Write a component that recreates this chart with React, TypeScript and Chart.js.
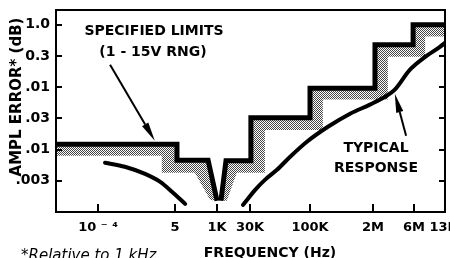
import { useEffect, useRef } from "react";
import { Chart, registerables } from "chart.js";

Chart.register(...registerables);

// Axis ticks (positions in an abstract 0..100 frequency coordinate; y in decade-step index)
const xTickValues = [10.8, 30.6, 41.4, 49.9, 65.3, 81.5, 92.0, 100];
const xTickLabels = ["10 ⁻ ⁴", "5", "1K", "30K", "100K", "2M", "6M", "13M"];
const yTickValues = [0, 1, 2, 3, 4, 5];
const yTickLabels = [".003", ".01", ".03", ".01", "0.3", "1.0"];

// Specified limits (staircase)
const limitLeftX = [0, 31.1, 31.1, 39.1, 41.4];
const limitLeftY = [1.17, 1.17, 0.66, 0.66, -0.64];
const limitRightX = [42.4, 43.7, 50.1, 50.1, 65.3, 65.3, 82.0, 82.0, 91.8, 91.8, 100];
const limitRightY = [-0.64, 0.64, 0.64, 2.02, 2.02, 2.96, 2.96, 4.36, 4.36, 5.0, 5.0];

// Outer edge of the shaded tolerance band
const bandLeftX = [0, 27.2, 27.2, 35.7, 39.6];
const bandLeftY = [0.8, 0.8, 0.26, 0.26, -0.61];
const bandRightX = [43.9, 46.5, 53.7, 53.7, 68.6, 68.6, 85.3, 85.3, 94.9, 94.9, 100];
const bandRightY = [-0.64, 0.26, 0.26, 1.63, 1.63, 2.6, 2.6, 3.97, 3.97, 4.62, 4.62];

// Typical response
const typicalLowX = [12.6, 17.7, 22.9, 26.7, 29.8, 33.2];
const typicalLowY = [0.58, 0.45, 0.22, -0.03, -0.35, -0.74];
const typicalHighX = [48.1, 51.2, 53.7, 56.8, 60.2, 64.5, 69.9, 75.6, 80.7, 84.6, 87.1, 91.0, 94.9, 98.7, 100];
const typicalHighY = [-0.77, -0.29, 0.03, 0.35, 0.77, 1.25, 1.73, 2.15, 2.44, 2.69, 2.92, 3.56, 3.97, 4.29, 4.42];

// Annotation arrows [tailX, tailY, tipX, tipY] in data units
const limitsArrow = [13.9, 3.72, 25.4, 1.28];
const typicalArrow = [90.0, 1.44, 87.1, 2.79];

const FONT = "'DejaVu Sans', sans-serif";

const pts = (xs: number[], ys: number[]) => xs.map((x, i) => ({ x, y: ys[i] }));
const poly = (ax: number[], ay: number[], bx: number[], by: number[]) =>
  pts(ax, ay).concat(pts(bx, by).reverse());

function drawArrow(ctx: CanvasRenderingContext2D, x1: number, y1: number, x2: number, y2: number) {
  const ang = Math.atan2(y2 - y1, x2 - x1);
  const headLen = 19;
  const headW = 3.6;
  const bx = x2 - Math.cos(ang) * headLen;
  const by = y2 - Math.sin(ang) * headLen;
  ctx.beginPath();
  ctx.lineWidth = 2;
  ctx.moveTo(x1, y1);
  ctx.lineTo(bx, by);
  ctx.stroke();
  ctx.beginPath();
  ctx.moveTo(x2, y2);
  ctx.lineTo(bx + Math.sin(ang) * headW, by - Math.cos(ang) * headW);
  ctx.lineTo(bx - Math.sin(ang) * headW, by + Math.cos(ang) * headW);
  ctx.closePath();
  ctx.fill();
}

const decorPlugin = {
  id: "decor",
  afterDatasetsDraw(chart: any) {
    const { ctx, chartArea: a } = chart;
    const x = chart.scales.x;
    const y = chart.scales.y;
    ctx.save();
    ctx.strokeStyle = "#000";
    ctx.fillStyle = "#000";
    ctx.lineWidth = 2;
    ctx.strokeRect(a.left, a.top, a.right - a.left, a.bottom - a.top);
    ctx.beginPath();
    xTickValues.forEach((v) => {
      if (v >= 100) return;
      const px = Math.round(x.getPixelForValue(v));
      ctx.moveTo(px, a.bottom);
      ctx.lineTo(px, a.bottom - 8);
    });
    yTickValues.forEach((v) => {
      const py = Math.round(y.getPixelForValue(v));
      ctx.moveTo(a.left, py);
      ctx.lineTo(a.left + 6, py);
      ctx.moveTo(a.right, py);
      ctx.lineTo(a.right - 6, py);
    });
    ctx.stroke();

    const arrow = (arr: number[]) =>
      drawArrow(
        ctx,
        x.getPixelForValue(arr[0]),
        y.getPixelForValue(arr[1]),
        x.getPixelForValue(arr[2]),
        y.getPixelForValue(arr[3])
      );
    arrow(limitsArrow);
    arrow(typicalArrow);

    ctx.font = `bold 14px ${FONT}`;
    ctx.textAlign = "center";
    ctx.textBaseline = "alphabetic";
    ctx.fillText("SPECIFIED LIMITS", 154, 35);
    ctx.fillText("(1 - 15V RNG)", 153, 56);
    ctx.fillText("TYPICAL", 376, 152);
    ctx.fillText("RESPONSE", 376, 172);
    ctx.fillText("FREQUENCY (Hz)", 270, 257);

    ctx.font = `italic 15px ${FONT}`;
    ctx.textAlign = "left";
    ctx.fillText("*Relative to 1 kHz", 21, 260);

    ctx.save();
    ctx.translate(21, 97);
    ctx.rotate(-Math.PI / 2);
    ctx.font = `bold 15px ${FONT}`;
    ctx.textAlign = "center";
    ctx.fillText("AMPL ERROR* (dB)", 0, 0);
    ctx.restore();

    ctx.restore();
  },
};

export default function App() {
  const ref = useRef<HTMLCanvasElement | null>(null);
  useEffect(() => {
    if (!ref.current) return;
    const pc = document.createElement("canvas");
    pc.width = 2;
    pc.height = 2;
    const pctx = pc.getContext("2d")!;
    pctx.fillStyle = "#fff";
    pctx.fillRect(0, 0, 2, 2);
    pctx.fillStyle = "#444";
    pctx.fillRect(0, 0, 1, 1);
    pctx.fillRect(1, 1, 1, 1);
    const pattern = ref.current.getContext("2d")!.createPattern(pc, "repeat")!;

    const lineDs = (data: any[], width: number, smooth: boolean) => ({
      data,
      borderColor: "#000",
      borderWidth: width,
      pointRadius: 0,
      fill: false,
      tension: smooth ? 0.4 : 0,
      cubicInterpolationMode: smooth ? "monotone" : "default",
      borderCapStyle: smooth ? "round" : "butt",
      borderJoinStyle: "miter",
      order: 1,
    });
    const bandDs = (data: any[]) => ({
      data,
      borderWidth: 0,
      borderColor: "rgba(0,0,0,0)",
      backgroundColor: pattern,
      pointRadius: 0,
      fill: "shape",
      tension: 0,
      order: 3,
    });

    const chart = new Chart(ref.current, {
      type: "line",
      data: {
        datasets: [
          bandDs(poly(limitLeftX, limitLeftY, bandLeftX, bandLeftY)),
          bandDs(poly(limitRightX, limitRightY, bandRightX, bandRightY)),
          lineDs(pts(limitLeftX, limitLeftY), 5, false),
          lineDs(pts(limitRightX, limitRightY), 5, false),
          lineDs(pts(typicalLowX, typicalLowY), 4, true),
          lineDs(pts(typicalHighX, typicalHighY), 4, true),
        ] as any,
      },
      options: {
        animation: false,
        responsive: false,
        devicePixelRatio: 1,
        layout: { padding: { top: 10, right: 5, left: 0, bottom: 0 } },
        plugins: { legend: { display: false }, tooltip: { enabled: false } },
        scales: {
          x: {
            type: "linear",
            min: 0,
            max: 100,
            grid: { display: false, drawTicks: false },
            border: { display: false },
            afterBuildTicks: (s: any) => {
              s.ticks = xTickValues.map((v) => ({ value: v }));
            },
            afterFit: (s: any) => {
              s.height = 46;
              s.paddingLeft = 0;
              s.paddingRight = 0;
            },
            ticks: {
              autoSkip: false,
              maxRotation: 0,
              padding: 8,
              color: "#000",
              font: { family: FONT, size: 13, weight: "bold" },
              callback: (v: any) => {
                const i = xTickValues.indexOf(Number(v));
                return i >= 0 ? xTickLabels[i] : "";
              },
            },
          },
          y: {
            type: "linear",
            min: -1,
            max: 5.47,
            grid: { display: false, drawTicks: false },
            border: { display: false },
            afterBuildTicks: (s: any) => {
              s.ticks = yTickValues.map((v) => ({ value: v }));
            },
            afterFit: (s: any) => {
              s.width = 56;
              s.paddingTop = 0;
              s.paddingBottom = 0;
            },
            ticks: {
              padding: 6,
              color: "#000",
              font: { family: FONT, size: 14, weight: "bold" },
              callback: (v: any) => {
                const i = yTickValues.indexOf(Number(v));
                return i >= 0 ? yTickLabels[i] : "";
              },
            },
          },
        },
      },
      plugins: [decorPlugin],
    });
    return () => chart.destroy();
  }, []);

  return (
    <div style={{ position: "absolute", left: 0, top: 0, width: 450, height: 258, background: "#fff" }}>
      <canvas ref={ref} width={450} height={258} style={{ width: 450, height: 258, display: "block" }} />
    </div>
  );
}
